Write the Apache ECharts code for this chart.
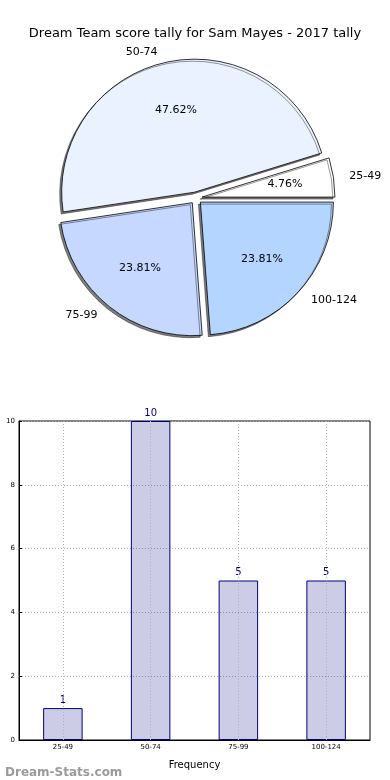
<!DOCTYPE html>
<html>
<head>
<meta charset="utf-8">
<script src="https://cdn.jsdelivr.net/npm/echarts@6/dist/echarts.min.js"></script>
<style>html,body{margin:0;padding:0;background:#fff;}#c{width:390px;height:780px;}</style>
</head>
<body>
<div id="c"></div>
<script>
var categories = ['25-49', '50-74', '75-99', '100-124'];
var counts = [1, 10, 5, 5];
var sliceColors = ['#ffffff', '#ebf2ff', '#c6d8ff', '#b4d5ff'];
var yTicks = [0, 2, 4, 6, 8, 10];
var titleText = 'Dream Team score tally for Sam Mayes - 2017 tally';

var FONT = 'DejaVu Sans';
var chart = echarts.init(document.getElementById('c'), null, {renderer: 'canvas'});

var pieData = categories.map(function (c, i) {
  return {name: c, value: counts[i], selected: true, itemStyle: {color: sliceColors[i]}};
});
var pieLabelData = categories.map(function (c, i) {
  return {name: c, value: counts[i], selected: true};
});

var option = {
  animation: false,
  backgroundColor: '#ffffff',
  title: [
    {text: titleText, left: 'center', top: 22, textStyle: {fontFamily: FONT, fontSize: 13, fontWeight: 'normal', color: '#000'}},
    {text: 'Dream-Stats.com', left: 0, top: 762, textStyle: {fontFamily: FONT, fontSize: 12, fontWeight: 'bold', color: '#9a9a9a'}}
  ],
  grid: {left: 19, right: 20, top: 421, bottom: 40, show: true, borderColor: '#000', borderWidth: 1, backgroundColor: 'transparent'},
  xAxis: {
    type: 'category', data: categories,
    name: 'Frequency', nameLocation: 'middle', nameGap: 20,
    nameTextStyle: {fontFamily: FONT, fontSize: 10, color: '#000'},
    axisLine: {lineStyle: {color: '#000'}},
    axisTick: {alignWithLabel: true, inside: true, length: 3, lineStyle: {color: '#000'}},
    axisLabel: {fontFamily: FONT, fontSize: 7, color: '#000', margin: 4},
    splitLine: {show: false}
  },
  yAxis: {
    type: 'value', min: 0, max: 10, interval: 2,
    axisLine: {show: true, lineStyle: {color: '#000'}},
    axisTick: {show: true, inside: true, length: 3, lineStyle: {color: '#000'}},
    axisLabel: {fontFamily: FONT, fontSize: 7, color: '#000', margin: 4},
    splitLine: {show: true, lineStyle: {color: '#b0b0b0', type: [1, 2], width: 1}}
  },
  series: [
    {
      type: 'pie', center: [196, 198], radius: [0, 133],
      clockwise: false, startAngle: 0, avoidLabelOverlap: false,
      selectedMode: 'multiple', selectedOffset: 6,
      silent: true,
      itemStyle: {borderColor: '#000', borderWidth: 0.8, shadowColor: 'rgba(0,0,0,0.5)', shadowBlur: 0, shadowOffsetX: -2, shadowOffsetY: 2},
      label: {show: true, position: 'outside', formatter: '{b}', fontFamily: FONT, fontSize: 11, color: '#000'},
      labelLine: {show: false, length: 11, length2: 0},
      data: pieData
    },
    {
      type: 'pie', center: [196, 198], radius: [0, 160],
      clockwise: false, startAngle: 0, avoidLabelOverlap: false,
      selectedMode: 'multiple', selectedOffset: 7,
      silent: true, z: 3,
      itemStyle: {color: 'rgba(0,0,0,0)', borderWidth: 0},
      label: {show: true, position: 'inside', formatter: '{d}%', fontFamily: FONT, fontSize: 11, color: '#000'},
      labelLine: {show: false},
      data: pieLabelData
    },
    {
      type: 'bar', data: counts, barWidth: '45%', silent: true,
      itemStyle: {color: 'rgba(0,0,128,0.2)', borderColor: '#000080', borderWidth: 1},
      label: {show: true, position: 'top', distance: 3, fontFamily: FONT, fontSize: 10, color: '#000080'},
      markLine: {
        silent: true, symbol: 'none', animation: false,
        label: {show: false},
        lineStyle: {color: '#b0b0b0', type: [1, 2], width: 1},
        emphasis: {disabled: true},
        data: categories.map(function (c) { return {xAxis: c}; })
      }
    }
  ]
};
chart.setOption(option);
</script>
</body>
</html>
